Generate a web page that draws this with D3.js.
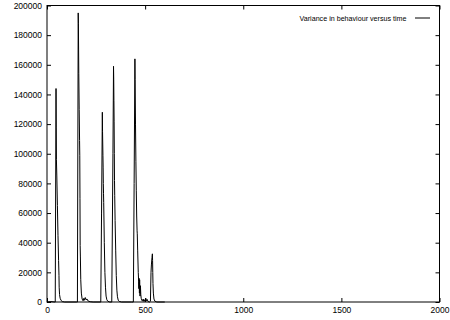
<!DOCTYPE html>
<html>
<head>
<meta charset="utf-8">
<script src="https://cdn.jsdelivr.net/npm/d3@7"></script>
<style>
  html, body { margin: 0; padding: 0; background: #fff; }
  svg { display: block; }
  text { font-family: "Liberation Sans", Arial, Helvetica, sans-serif; }
</style>
</head>
<body>
<svg id="chart" width="450" height="320"></svg>
<script>
// ---- data ----
const xTicks = [0, 500, 1000, 1500, 2000];
const yTicks = [0, 20000, 40000, 60000, 80000, 100000, 120000, 140000, 160000, 180000, 200000];
const seriesLabel = "Variance in behaviour versus time";

const time = [
  0, 20, 40, 42, 46, 47, 48, 50, 53, 56, 59, 61, 62, 64, 67, 72, 78, 90,
  150, 155, 159, 160, 161, 162, 164, 166, 167, 168, 169, 170, 172, 175, 179, 184, 188, 191, 195, 199, 204, 210, 220, 235,
  265, 274, 278, 282, 283, 285, 286, 287, 288, 289, 292, 295, 298, 301, 305, 310, 320,
  330, 336, 339, 340, 341, 342, 343, 344, 345, 347, 350, 353, 356, 359, 363, 368, 380,
  430, 440, 444, 448, 449, 451, 453, 455, 457, 459, 460, 462, 465, 467, 468, 469, 470, 471, 472, 473, 474, 476, 478, 480, 484, 487, 490, 493, 497, 500, 503, 506, 510, 515, 522,
  527, 530, 532, 535, 537, 538, 539, 540, 542, 545, 550, 560, 600
];
const variance = [
  0, 300, 0, 0, 144000, 118000, 96000, 85000, 65000, 45000, 28000, 18000, 10000, 5000, 2500, 1000, 300, 0,
  0, 0, 195000, 188000, 170000, 154000, 130000, 109000, 99000, 70000, 38000, 31000, 15000, 6000, 2000, 800, 2500, 1200, 3000, 1500, 2000, 600, 200, 0,
  0, 0, 60000, 128000, 115000, 99000, 91000, 80000, 73000, 67000, 40000, 20000, 10000, 4000, 1500, 500, 0,
  0, 100000, 159000, 150000, 136000, 122000, 100000, 82000, 72000, 55000, 35000, 18000, 8000, 3500, 1200, 400, 0,
  0, 0, 80000, 164000, 150000, 120000, 95000, 75000, 58000, 48000, 46000, 35000, 20000, 14000, 9000, 16000, 12000, 6000, 15000, 9000, 4000, 11000, 5000, 2500, 1000, 600, 2000, 500, 1500, 300, 2500, 800, 1800, 300, 0,
  500, 20000, 25000, 30000, 32500, 28000, 20000, 12500, 6000, 2000, 500, 0, 0
];

// ---- layout ----
const L = 47, R = 439.5, T = 5.5, B = 302;
const svg = d3.select("#chart");
const x = d3.scaleLinear().domain([0, 2000]).range([L, R]);
const y = d3.scaleLinear().domain([0, 200000]).range([B, T]);
const fs = 8.5;

// axes with inward ticks
const gLeft = svg.append("g").attr("transform", `translate(${L},0)`)
  .call(d3.axisLeft(y).tickValues(yTicks).tickFormat(d3.format("d"))
        .tickSizeInner(-4).tickSizeOuter(0).tickPadding(5));
const gBottom = svg.append("g").attr("transform", `translate(0,${B})`)
  .call(d3.axisBottom(x).tickValues(xTicks).tickFormat(d3.format("d"))
        .tickSizeInner(-4).tickSizeOuter(0).tickPadding(5));
const gRight = svg.append("g").attr("transform", `translate(${R},0)`)
  .call(d3.axisRight(y).tickValues(yTicks).tickFormat("")
        .tickSizeInner(-4).tickSizeOuter(0));
const gTop = svg.append("g").attr("transform", `translate(0,${T})`)
  .call(d3.axisTop(x).tickValues(xTicks).tickFormat("")
        .tickSizeInner(-4).tickSizeOuter(0));

[gLeft, gBottom, gRight, gTop].forEach(g => {
  g.select(".domain").remove();
  g.selectAll("line").attr("stroke", "#000").attr("stroke-width", 1);
  g.selectAll("text").attr("fill", "#000").style("font-size", fs + "px")
    .style("font-family", '"Liberation Sans", Arial, Helvetica, sans-serif');
});

// border
svg.append("rect")
  .attr("x", L).attr("y", T).attr("width", R - L).attr("height", B - T)
  .attr("fill", "none").attr("stroke", "#000").attr("stroke-width", 1);

// data line
const pts = time.map((t, i) => [t, variance[i]]);
svg.append("path")
  .datum(pts)
  .attr("fill", "none")
  .attr("stroke", "#000")
  .attr("stroke-width", 1)
  .attr("d", d3.line().x(d => x(d[0])).y(d => y(d[1])));

// legend
const legY = 18;
svg.append("text")
  .attr("x", 406.5).attr("y", legY).attr("dy", "0.35em")
  .attr("text-anchor", "end")
  .attr("textLength", 107)
  .attr("lengthAdjust", "spacingAndGlyphs")
  .style("font-size", "8px")
  .attr("fill", "#000")
  .text(seriesLabel);
svg.append("line")
  .attr("x1", 415).attr("x2", 430).attr("y1", legY).attr("y2", legY)
  .attr("stroke", "#000").attr("stroke-width", 1);
</script>
</body>
</html>
